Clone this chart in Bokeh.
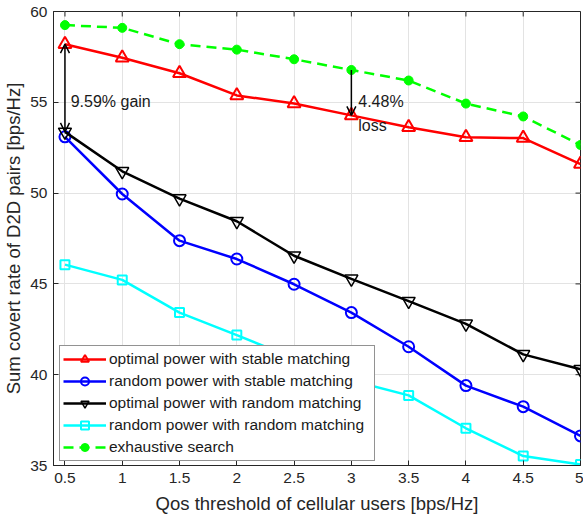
from bokeh.plotting import figure
from bokeh.models import (FixedTicker, Range1d, Arrow, OpenHead, Label)
from bokeh.embed import file_html
from bokeh.resources import INLINE

qos = [0.5, 1, 1.5, 2, 2.5, 3, 3.5, 4, 4.5, 5]
x_tick_labels = ["0.5", "1", "1.5", "2", "2.5", "3", "3.5", "4", "4.5", "5"]
y_ticks = [35, 40, 45, 50, 55, 60]

opt_stable = [58.2, 57.45, 56.6, 55.38, 54.93, 54.28, 53.63, 53.07, 53.03, 51.6]
rand_stable = [53.1, 49.95, 47.38, 46.37, 44.98, 43.42, 41.54, 39.4, 38.24, 36.63]
opt_random = [53.37, 51.2, 49.7, 48.45, 46.55, 45.28, 44.05, 42.8, 41.12, 40.3]
rand_random = [46.06, 45.22, 43.42, 42.18, 40.9, 39.68, 38.86, 37.05, 35.52, 35.05]
exhaustive = [59.25, 59.1, 58.2, 57.9, 57.37, 56.78, 56.2, 54.93, 54.22, 52.65]

FONT = "Liberation Sans"
AX = "#262626"
X0, X1, Y0, Y1 = 0.4, 5, 35, 60

p = figure(width=583, height=516, output_backend="svg", toolbar_location=None,
           x_range=Range1d(X0, X1), y_range=Range1d(Y0, Y1),
           min_border_left=52, min_border_right=3, min_border_top=11, min_border_bottom=50,
           background_fill_color="white", border_fill_color="white")
p.outline_line_color = AX
p.outline_line_width = 1

p.xaxis.ticker = FixedTicker(ticks=qos)
p.xaxis.major_label_overrides = {q: l for q, l in zip(qos, x_tick_labels)}
p.yaxis.ticker = FixedTicker(ticks=y_ticks)
for ax in [p.xaxis[0], p.yaxis[0]]:
    ax.axis_line_color = AX
    ax.major_tick_line_color = AX
    ax.major_tick_in = 5
    ax.major_tick_out = 0
    ax.minor_tick_line_color = None
    ax.major_label_text_font = FONT
    ax.major_label_text_font_size = "15.5px"
    ax.major_label_text_color = AX
    ax.axis_label_text_font = FONT
    ax.axis_label_text_font_size = "18.5px"
    ax.axis_label_text_font_style = "normal"
    ax.axis_label_text_color = AX
p.xaxis.axis_label = "Qos threshold of cellular users [bps/Hz]"
p.yaxis.axis_label = "Sum covert rate of D2D pairs [bps/Hz]"
p.xaxis.major_label_standoff = 7
p.xaxis.axis_label_standoff = 7
p.yaxis.major_label_standoff = 6
p.yaxis.axis_label_standoff = 3

# tick marks on the top and right frame edges (MATLAB box style)
tx = 5 * (X1 - X0) / 528.0
ty = 5 * (Y1 - Y0) / 455.0
p.segment(x0=qos, y0=[Y1] * len(qos), x1=qos, y1=[Y1 - ty] * len(qos), line_color=AX, line_width=1)
p.segment(x0=[X1] * len(y_ticks), y0=y_ticks, x1=[X1 - tx] * len(y_ticks), y1=y_ticks,
          line_color=AX, line_width=1)

p.xgrid.ticker = FixedTicker(ticks=qos)
p.ygrid.ticker = FixedTicker(ticks=y_ticks)
p.grid.grid_line_color = "#e3e3e3"
p.grid.grid_line_width = 1

lw = 2.5
lab1 = "optimal power with stable matching"
lab2 = "random power with stable matching"
lab3 = "optimal power with random matching"
lab4 = "random power with random matching"
lab5 = "exhaustive search"

p.line(qos, opt_stable, color="#ff0000", line_width=lw, legend_label=lab1)
p.scatter(qos, opt_stable, marker="triangle", size=13, line_color="#ff0000",
          fill_color=None, line_width=2, legend_label=lab1)

p.line(qos, rand_stable, color="#0000ff", line_width=lw, legend_label=lab2)
p.scatter(qos, rand_stable, marker="circle", size=11, line_color="#0000ff",
          fill_color=None, line_width=2, legend_label=lab2)

p.line(qos, opt_random, color="#000000", line_width=lw, legend_label=lab3)
p.scatter(qos, opt_random, marker="inverted_triangle", size=13, line_color="#000000",
          fill_color=None, line_width=1.5, legend_label=lab3)

p.line(qos, rand_random, color="#00ffff", line_width=lw, legend_label=lab4)
p.scatter(qos, rand_random, marker="square", size=9, line_color="#00ffff",
          fill_color=None, line_width=2, legend_label=lab4)

p.line(qos, exhaustive, color="#00ff00", line_width=lw, line_dash="10 6", legend_label=lab5)
p.scatter(qos, exhaustive, marker="circle", size=9, line_color="#00ff00",
          fill_color="#00ff00", legend_label=lab5)

# annotations
p.add_layout(Arrow(x_start=qos[0], y_start=opt_random[0], x_end=qos[0], y_end=opt_stable[0],
                   start=OpenHead(size=9, line_width=1.5, line_color="black"),
                   end=OpenHead(size=9, line_width=1.5, line_color="black"),
                   line_width=1.5, line_color="black"))
p.add_layout(Arrow(x_start=qos[5], y_start=exhaustive[5], x_end=qos[5], y_end=opt_stable[5],
                   end=OpenHead(size=9, line_width=1.5, line_color="black"),
                   line_width=1.5, line_color="black"))
p.add_layout(Label(x=0.55, y=55.05, text="9.59% gain", text_font=FONT, text_font_size="16px",
                   text_color="#1a1a1a", text_baseline="middle"))
p.add_layout(Label(x=3.06, y=55.05, text="4.48%", text_font=FONT, text_font_size="16px",
                   text_color="#1a1a1a", text_baseline="middle"))
p.add_layout(Label(x=3.06, y=53.75, text="loss", text_font=FONT, text_font_size="16px",
                   text_color="#1a1a1a", text_baseline="middle"))

lg = p.legend[0]
lg.location = (6, 4)
lg.label_text_font = FONT
lg.label_text_font_size = "15.5px"
lg.label_text_color = "#1a1a1a"
lg.glyph_width = 43
lg.glyph_height = 20
lg.label_height = 20
lg.label_width = 262
lg.spacing = 2
lg.padding = 3
lg.margin = 0
lg.label_standoff = 3
lg.border_line_color = AX
lg.border_line_width = 1
lg.background_fill_alpha = 1

open("out.html", "w").write(file_html(p, INLINE))
